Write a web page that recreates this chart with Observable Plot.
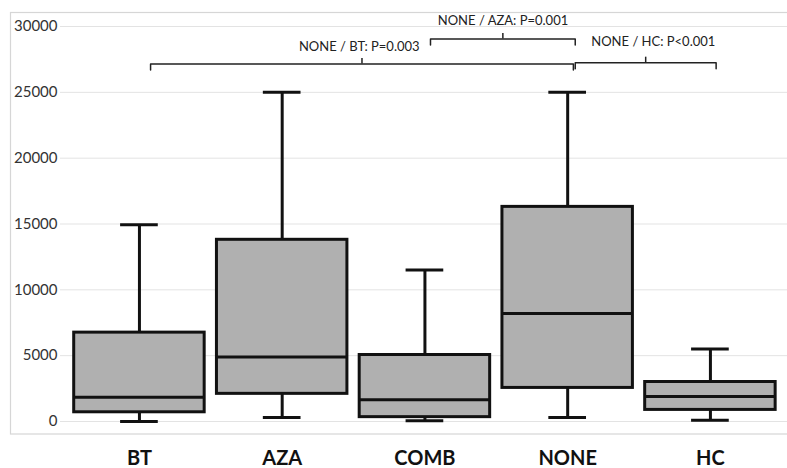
<!DOCTYPE html>
<html>
<head>
<meta charset="utf-8">
<script src="https://cdn.jsdelivr.net/npm/d3@7"></script>
<script src="https://cdn.jsdelivr.net/npm/@observablehq/plot@0.6"></script>
<style>
  html, body { margin: 0; padding: 0; background: #fff; }
  #chart { width: 787px; height: 468px; }
</style>
</head>
<body>
<div id="chart"></div>
<script>
// ---- data ----
const categories = ["BT", "AZA", "COMB", "NONE", "HC"];
const whiskerLow = [0, 300, 50, 300, 100];
const q1 = [700, 2100, 330, 2550, 880];
const median = [1850, 4900, 1650, 8200, 1900];
const q3 = [6750, 13800, 5050, 16300, 3000];
const whiskerHigh = [14950, 25000, 11500, 25000, 5500];
const yTicks = [0, 5000, 10000, 15000, 20000, 25000, 30000];

// significance brackets (category index positions, value level)
const bracketLabels = ["NONE / BT: P=0.003", "NONE / AZA: P=0.001", "NONE / HC: P<0.001"];
const bracketFrom = [1.078, 3.039, 4.053];
const bracketTo = [4.04, 4.053, 5.04];
const bracketLevel = [27150, 29050, 27250];
const labelX = [2.54, 3.547, 4.60];
const labelLevel = [28450, 30450, 28800];

// ---- derived tables ----
const boxes = categories.map((c, i) => ({
  c, pos: i + 1, lo: whiskerLow[i], q1: q1[i], med: median[i], q3: q3[i], hi: whiskerHigh[i]
}));
const hw = 0.457, cap = 0.132, hook = 450, tick = 420;
const bracketPaths = [];
bracketLabels.forEach((l, i) => {
  const a = bracketFrom[i], b = bracketTo[i], y = bracketLevel[i];
  [[a, y - hook], [a, y], [b, y], [b, y - hook]].forEach(([x, v]) => bracketPaths.push({k: i, x, v}));
});
const bracketTicks = bracketLabels.map((l, i) => ({
  x: (bracketFrom[i] + bracketTo[i]) / 2, y1: bracketLevel[i], y2: bracketLevel[i] + tick
}));
const bracketText = bracketLabels.map((l, i) => ({l, x: labelX[i], y: labelLevel[i]}));

const ink = "#111";
const chart = Plot.plot({
  width: 787,
  height: 468,
  marginLeft: 60,
  marginRight: 0,
  marginTop: 26,
  marginBottom: 47,
  style: {fontFamily: "Lato, 'Open Sans', sans-serif", background: "#fff", overflow: "visible"},
  x: {domain: [0.447, 5.54], axis: null},
  y: {domain: [0, 30000], axis: null},
  marks: [
    Plot.ruleY(yTicks, {stroke: "#e3e3e3", strokeWidth: 1}),
    Plot.axisY({ticks: yTicks, tickSize: 0, tickPadding: 3, tickFormat: d3.format("d"),
      fontSize: 15, fill: "#333", label: null}),
    Plot.axisX({ticks: [1, 2, 3, 4, 5], tickSize: 0, tickPadding: 29,
      tickFormat: d => categories[d - 1], fontSize: 20, fontWeight: "bold", fill: "#111", label: null}),
    // whiskers
    Plot.ruleX(boxes, {x: "pos", y1: "q3", y2: "hi", stroke: ink, strokeWidth: 3}),
    Plot.ruleX(boxes, {x: "pos", y1: "lo", y2: "q1", stroke: ink, strokeWidth: 3}),
    Plot.ruleY(boxes, {y: "hi", x1: d => d.pos - cap, x2: d => d.pos + cap, stroke: ink, strokeWidth: 3}),
    Plot.ruleY(boxes, {y: "lo", x1: d => d.pos - cap, x2: d => d.pos + cap, stroke: ink, strokeWidth: 3}),
    // boxes
    Plot.rect(boxes, {x1: d => d.pos - hw, x2: d => d.pos + hw, y1: "q1", y2: "q3",
      fill: "#b0b0b0", stroke: ink, strokeWidth: 3}),
    Plot.ruleY(boxes, {y: "med", x1: d => d.pos - hw, x2: d => d.pos + hw, stroke: ink, strokeWidth: 3}),
    // brackets
    Plot.line(bracketPaths, {x: "x", y: "v", z: "k", stroke: "#222", strokeWidth: 1.5, curve: "linear"}),
    Plot.ruleX(bracketTicks, {x: "x", y1: "y1", y2: "y2", stroke: "#222", strokeWidth: 1.5}),
    Plot.text(bracketText, {x: "x", y: "y", text: "l", fontSize: 13, fill: "#222"})
  ]
});

// light outer frame
const svg = d3.select(chart);
svg.insert("rect", ":first-child")
  .attr("x", 10.5).attr("y", 12.5).attr("width", 790).attr("height", 421.5)
  .attr("fill", "none").attr("stroke", "#d6d6d6").attr("stroke-width", 1.2);

document.getElementById("chart").appendChild(chart);
</script>
</body>
</html>
